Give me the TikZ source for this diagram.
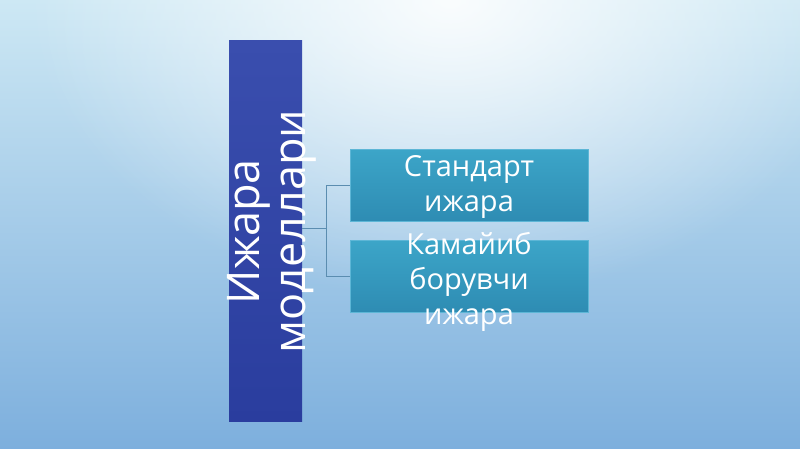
\documentclass[tikz,border=0pt]{standalone}
\usepackage{fontspec}
\setmainfont{Open Sans}
\usetikzlibrary{positioning,fadings}

\definecolor{bgtop}{HTML}{CDE8F4}
\definecolor{bgbottom}{HTML}{7DAFDD}
\definecolor{navytop}{HTML}{3A4EAE}
\definecolor{navybot}{HTML}{2A3D9E}
\definecolor{tealtop}{HTML}{3CA5C8}
\definecolor{tealbot}{HTML}{2E8CB3}
\definecolor{tealedge}{HTML}{5DB6D6}
\definecolor{linkcol}{HTML}{5B8DB0}

\tikzfading[name=glow, inner color=transparent!0, outer color=transparent!100]

\begin{document}
\begin{tikzpicture}[x=1pt,y=1pt]
    % slide background
    \useasboundingbox (0,0) rectangle (800,449);
    \shade[top color=bgtop, bottom color=bgbottom] (0,0) rectangle (800,449);
    \fill[white, path fading=glow, fill opacity=0.9] (450,449) ellipse (420 and 300);

    \begin{scope}[on grid, text centered, text=white,
    		mainbox/.style={rectangle, top color=navytop, bottom color=navybot,
    		  minimum width=73pt, minimum height=381pt, inner sep=0pt},
    		subbox/.style={rectangle, draw=tealedge, line width=0.6pt,
    		  top color=tealtop, bottom color=tealbot,
    		  minimum width=238pt, minimum height=71.5pt, inner sep=0pt},
    		boxtext/.style={align=center, font=\fontsize{29}{35}\selectfont},
    		link/.style={linkcol, line width=0.8pt}]

    \node[mainbox] (models) at (265.5,217.5) {};
    \node[align=center, rotate=90, font=\fontsize{45}{46}\selectfont] (modelstext)
        at ([xshift=6pt]models.center) {Ижара\\моделлари};

    \node[subbox] (std) at (469,263.5) {};
    \node[subbox] (dec) [below=91pt of std] {};
    \node[boxtext] (stdtext) at ([yshift=-1pt]std.center) {Стандарт\\ижара};
    \node[boxtext] (dectext) at ([yshift=-5pt]dec.center) {Камайиб\\борувчи\\ижара};

    \draw[link] ([yshift=3.5pt]models.east) -- ++(24pt,0) coordinate (fork);
    \draw[link] (fork) |- (std.west);
    \draw[link] (fork) |- (dec.west);

    \end{scope}
\end{tikzpicture}
\end{document}
